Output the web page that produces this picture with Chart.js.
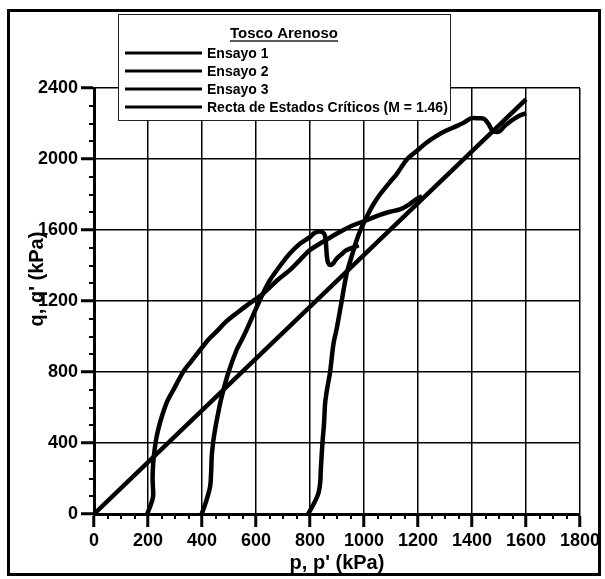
<!DOCTYPE html>
<html>
<head>
<meta charset="utf-8">
<script src="https://cdn.jsdelivr.net/npm/chart.js@4.4.1/dist/chart.umd.min.js"></script>
<style>
  html, body { margin: 0; padding: 0; background: #fff; }
  #wrap { width: 605px; height: 579px; }
</style>
</head>
<body>
<div id="wrap"><canvas id="c" width="605" height="579"></canvas></div>
<script>
// ---------- DATA ----------
const legendTitle = 'Tosco Arenoso';
const seriesNames = ['Ensayo 1', 'Ensayo 2', 'Ensayo 3', 'Recta de Estados Críticos (M = 1.46)'];
const xAxisTitle = "p, p' (kPa)";
const yAxisTitle = "q, q' (kPa)";

const xTickValues = [0, 200, 400, 600, 800, 1000, 1200, 1400, 1600, 1800];
const xTickLabels = ['0', '200', '400', '600', '800', '1000', '1200', '1400', '1600', '1800'];
const yTickValues = [0, 400, 800, 1200, 1600, 2000, 2400];
const yTickLabels = ['0', '400', '800', '1200', '1600', '2000', '2400'];

// Ensayo 1 (p0 = 200 kPa)
const ensayo1P = [197, 210, 219, 218, 217, 219, 222, 227, 232, 241, 251, 270, 294, 331, 360, 393, 425, 460, 490, 528, 575, 625, 680, 726, 765, 800, 850, 900, 950, 997, 1059, 1096, 1133, 1165, 1195, 1215];
const ensayo1Q = [0, 50, 100, 160, 210, 280, 330, 390, 436, 495, 548, 630, 699, 802, 860, 924, 985, 1037, 1085, 1131, 1185, 1240, 1318, 1375, 1435, 1487, 1535, 1580, 1620, 1648, 1685, 1703, 1716, 1742, 1775, 1790];

// Ensayo 2 (p0 = 400 kPa)
const ensayo2P = [399, 415, 430, 434, 436, 441, 448, 460, 473, 497, 528, 547, 566, 595, 625, 652, 690, 726, 765, 800, 815, 837, 852, 858, 862, 866, 874, 885, 899, 920, 936, 967, 980];
const ensayo2Q = [0, 70, 154, 240, 323, 400, 473, 570, 661, 793, 924, 980, 1040, 1140, 1240, 1318, 1400, 1469, 1525, 1560, 1582, 1591, 1580, 1545, 1460, 1420, 1403, 1410, 1440, 1468, 1487, 1506, 1515];

// Ensayo 3 (p0 = 800 kPa)
const ensayo3P = [793, 815, 831, 838, 840, 846, 852, 856, 864, 874, 887, 898, 915, 936, 955, 973, 990, 1010, 1035, 1059, 1096, 1121, 1160, 1195, 1230, 1269, 1305, 1343, 1370, 1396, 1425, 1445, 1460, 1475, 1490, 1505, 1520, 1541, 1570, 1600];
const ensayo3Q = [0, 60, 116, 180, 248, 398, 510, 624, 710, 795, 960, 1037, 1180, 1356, 1455, 1544, 1610, 1675, 1745, 1800, 1870, 1915, 2000, 2045, 2090, 2130, 2160, 2185, 2205, 2229, 2229, 2226, 2200, 2160, 2152, 2160, 2185, 2210, 2240, 2258];

// Recta de Estados Críticos, M = 1.46
const cslP = [0, 1600];
const cslQ = [0, 2336];

// ---------- HELPERS ----------
const toPts = (xs, ys) => xs.map((x, i) => ({ x: x, y: ys[i] }));
const FONT = "'Liberation Sans', Arial, Helvetica, sans-serif";

const minorTicks = {
  id: 'minorTicks',
  afterDraw(chart) {
    const { ctx, scales: { x, y }, chartArea } = chart;
    ctx.save();
    ctx.strokeStyle = '#000';
    ctx.lineWidth = 2;
    ctx.beginPath();
    for (let v = x.min; v <= x.max; v += 50) {
      if (v % 200 === 0) continue;
      const px = Math.round(x.getPixelForValue(v));
      ctx.moveTo(px, chartArea.bottom);
      ctx.lineTo(px, chartArea.bottom + 5);
    }
    for (let v = y.min; v <= y.max; v += 100) {
      if (v % 400 === 0) continue;
      const py = Math.round(y.getPixelForValue(v));
      ctx.moveTo(chartArea.left, py);
      ctx.lineTo(chartArea.left - 5, py);
    }
    ctx.stroke();
    ctx.restore();
  }
};

// y-axis title (placed as in the original figure, slightly above centre)
const yTitle = {
  id: 'yTitle',
  afterDraw(chart) {
    const ctx = chart.ctx;
    const ca = chart.chartArea;
    ctx.save();
    ctx.translate(37, (ca.top + ca.bottom) / 2 - 22);
    ctx.rotate(-Math.PI / 2);
    ctx.font = 'bold 20px ' + FONT;
    ctx.fillStyle = '#000';
    ctx.textAlign = 'center';
    ctx.textBaseline = 'middle';
    ctx.fillText(yAxisTitle, 0, 0);
    ctx.restore();
  }
};

const boxLegend = {
  id: 'boxLegend',
  afterDraw(chart) {
    const ctx = chart.ctx;
    const L = 118, T = 14, R = 450, B = 120;
    ctx.save();
    ctx.fillStyle = '#fff';
    ctx.fillRect(L, T, R - L, B - T);
    ctx.strokeStyle = '#222';
    ctx.lineWidth = 1;
    ctx.strokeRect(L + 0.5, T + 0.5, R - L, B - T);
    ctx.fillStyle = '#000';
    ctx.font = 'bold 15px ' + FONT;
    ctx.textAlign = 'center';
    ctx.textBaseline = 'alphabetic';
    const cx = (L + R) / 2;
    ctx.fillText(legendTitle, cx, 38);
    const w = ctx.measureText(legendTitle).width;
    ctx.lineWidth = 1.5;
    ctx.beginPath();
    ctx.moveTo(cx - w / 2, 41);
    ctx.lineTo(cx + w / 2, 41);
    ctx.stroke();
    ctx.font = 'bold 14px ' + FONT;
    ctx.textAlign = 'left';
    ctx.textBaseline = 'middle';
    chart.data.datasets.forEach((ds, i) => {
      const yy = 53 + i * 18;
      ctx.strokeStyle = ds.borderColor;
      ctx.lineWidth = 3;
      ctx.beginPath();
      ctx.moveTo(125, yy);
      ctx.lineTo(202, yy);
      ctx.stroke();
      ctx.fillStyle = '#000';
      ctx.fillText(ds.label, 207, yy + 1);
    });
    ctx.restore();
  }
};

const outerFrame = {
  id: 'outerFrame',
  afterDraw(chart) {
    const ctx = chart.ctx;
    ctx.save();
    ctx.strokeStyle = '#000';
    ctx.lineWidth = 3;
    ctx.strokeRect(8.5, 10.5, 591, 564);
    ctx.restore();
  }
};

// ---------- CHART ----------
const lineStyle = { borderColor: '#000', borderWidth: 4.5, pointRadius: 0, showLine: true, fill: false, tension: 0.3 };

new Chart(document.getElementById('c'), {
  type: 'scatter',
  data: {
    datasets: [
      Object.assign({ label: seriesNames[0], data: toPts(ensayo1P, ensayo1Q) }, lineStyle),
      Object.assign({ label: seriesNames[1], data: toPts(ensayo2P, ensayo2Q) }, lineStyle),
      Object.assign({ label: seriesNames[2], data: toPts(ensayo3P, ensayo3Q) }, lineStyle),
      Object.assign({ label: seriesNames[3], data: toPts(cslP, cslQ) }, lineStyle, { tension: 0 })
    ]
  },
  options: {
    responsive: false,
    animation: false,
    devicePixelRatio: 1,
    layout: { padding: { left: 0, top: 88, right: 25, bottom: 0 } },
    plugins: { legend: { display: false }, tooltip: { enabled: false } },
    scales: {
      x: {
        type: 'linear', min: 0, max: 1800,
        afterBuildTicks: s => { s.ticks = xTickValues.map(v => ({ value: v })); },
        afterFit: s => { s.height = 65; },
        ticks: {
          autoSkip: false, maxRotation: 0, padding: 3, color: '#000',
          font: { family: FONT, size: 18, weight: 'bold' },
          callback: (v) => xTickLabels[xTickValues.indexOf(v)]
        },
        grid: { color: '#000', lineWidth: 1.5, tickLength: 13, tickWidth: 3, tickColor: '#000' },
        border: { color: '#000', width: 3 },
        title: { display: true, text: xAxisTitle, color: '#000', padding: { top: 0, bottom: 4 },
                 font: { family: FONT, size: 20, weight: 'bold' } }
      },
      y: {
        type: 'linear', min: 0, max: 2400,
        afterBuildTicks: s => { s.ticks = yTickValues.map(v => ({ value: v })); },
        afterFit: s => { s.width = 94; },
        ticks: {
          autoSkip: false, padding: 3, color: '#000',
          font: { family: FONT, size: 18, weight: 'bold' },
          callback: (v) => yTickLabels[yTickValues.indexOf(v)]
        },
        grid: { color: '#000', lineWidth: 1.5, tickLength: 13, tickWidth: 3, tickColor: '#000' },
        border: { color: '#000', width: 3 },
        title: { display: false, text: yAxisTitle }
      }
    }
  },
  plugins: [minorTicks, yTitle, boxLegend, outerFrame]
});
</script>
</body>
</html>
